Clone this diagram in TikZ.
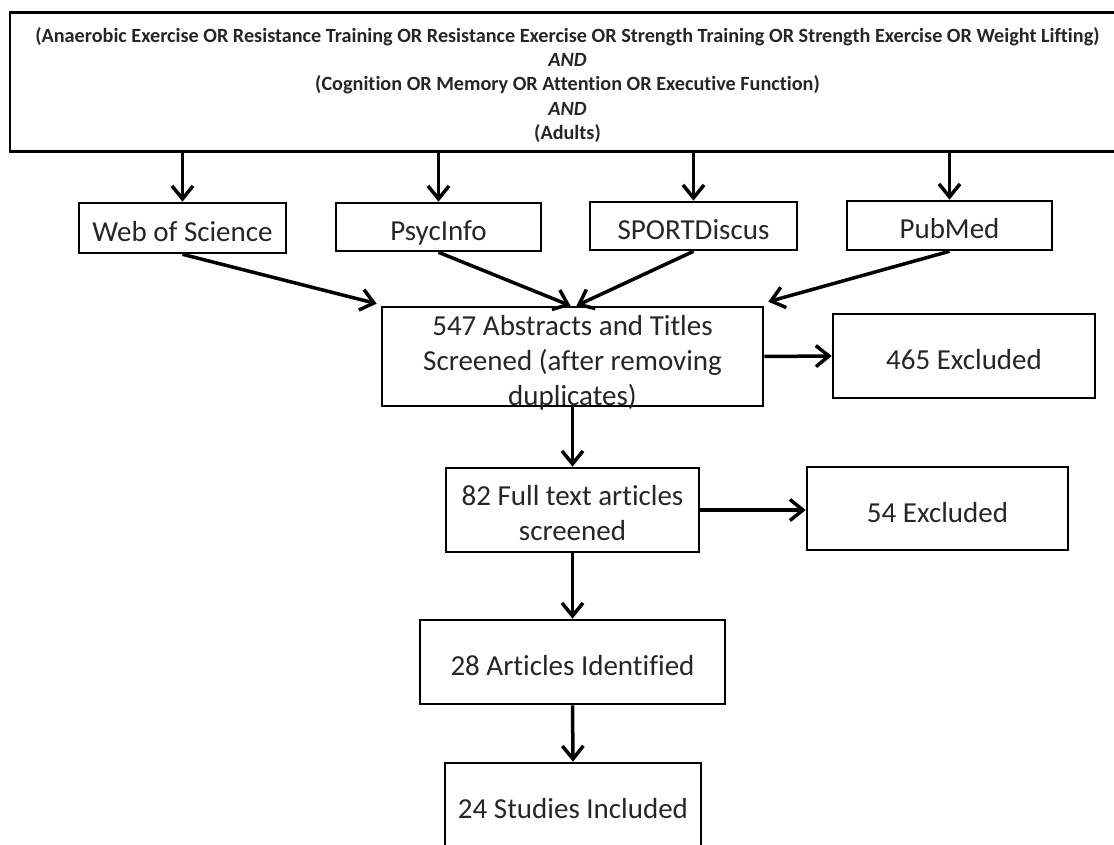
\documentclass[tikz,border=0pt]{standalone}
\usepackage{fontspec}
\setmainfont{Carlito}[Ligatures=NoCommon]
\usetikzlibrary{arrows.meta}
\begin{document}
\begin{tikzpicture}[x=1pt,y=-1pt,
  bx/.style={draw=black, line width=2.6pt, inner sep=0pt, align=center,
    font=\fontsize{29}{35}\selectfont, text=black!85},
  oneline/.style={text height=27pt, text depth=0pt},
  querybox/.style={draw=black, line width=2.6pt, inner sep=0pt, align=center,
    font=\fontsize{20.2}{24.3}\selectfont\bfseries, text=black!85},
  txt/.style={inner sep=0pt, align=center, font=\fontsize{29}{35}\selectfont, text=black!85},
  arr/.style={line width=3.5pt, -{Straight Barb[length=13pt,width=21pt,line width=3.5pt]}}]
\useasboundingbox (0,0) rectangle (1114,845);
\fill[white] (0,0) rectangle (1114,845);

\node[querybox, minimum width=1115pt, minimum height=139pt] (query) at (567.5,82) {};
\node[querybox, draw=none] (querytxt) at (567.5,85)
  {(Anaerobic Exercise OR Resistance Training OR Resistance Exercise OR Strength Training OR Strength Exercise OR Weight Lifting)\\
   \textit{AND}\\
   (Cognition OR Memory OR Attention OR Executive Function)\\
   \textit{AND}\\
   (Adults)};

\node[bx, oneline, minimum width=207pt, minimum height=50pt] (wos) at (182.5,228) {Web of Science};
\node[bx, oneline, minimum width=205pt, minimum height=48pt] (psy) at (438.5,227) {PsycInfo};
\node[bx, oneline, minimum width=207pt, minimum height=48pt] (spd) at (693.5,226) {SPORTDiscus};
\node[bx, oneline, minimum width=205pt, minimum height=49pt] (pub) at (949.5,225.5) {PubMed};

\node[bx, minimum width=381pt, minimum height=99pt] (abs) at (572.5,356.5) {};
\node[txt] (abstxt) at (572.5,363) {547 Abstracts and Titles\\Screened (after removing\\duplicates)};

\node[bx, oneline, minimum width=262pt, minimum height=84pt] (exa) at (964,356) {465 Excluded};
\node[bx, minimum width=253pt, minimum height=84pt] (full) at (572.5,510) {};
\node[txt] (fulltxt) at (572.5,513) {82 Full text articles\\screened};
\node[bx, oneline, minimum width=261pt, minimum height=83pt] (exb) at (937.5,508.5) {54 Excluded};
\node[bx, oneline, minimum width=305pt, minimum height=84pt] (art) at (572.5,662) {28 Articles Identified};
\node[bx, oneline, minimum width=256pt, minimum height=84pt] (stu) at (573,805) {24 Studies Included};

\foreach \n in {wos,psy,spd,pub}
  \draw[arr] (query.south -| \n.north) -- (\n.north);

\draw[arr] (wos.south) -- ([xshift=-4pt,yshift=2pt]abs.north west);
\draw[arr] (psy.south) -- ([xshift=-2pt]abs.north);
\draw[arr] (spd.south) -- ([xshift=4pt]abs.north);
\draw[arr] (pub.south) -- ([xshift=4pt,yshift=4pt]abs.north east);

\draw[arr] (abs.east) -- (exa.west);
\draw[arr] (full.east) -- (full.east -| exb.west);
\draw[arr] (abs.south) -- (full.north);
\draw[arr] (full.south) -- (art.north);
\draw[arr] (art.south) -- (stu.north);
\end{tikzpicture}
\end{document}
